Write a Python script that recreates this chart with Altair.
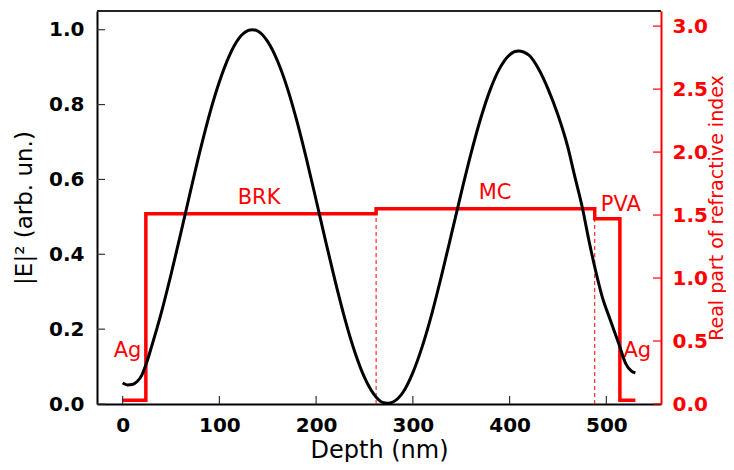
import altair as alt
import pandas as pd

# |E|^2 profile
depth_e = [0, 5, 10, 15, 20, 25, 30, 40, 50, 60, 70, 80, 90, 100, 110, 120, 130, 134, 140,
           150, 160, 170, 180, 190, 200, 210, 220, 230, 240, 250, 260, 268, 274, 280, 290,
           300, 310, 320, 330, 340, 350, 360, 370, 380, 390, 400, 409, 420, 430, 440, 450,
           460, 467, 475, 482, 489, 496, 504, 513, 520, 526, 530]
e_vals = [0.056, 0.051, 0.052, 0.060, 0.078, 0.112, 0.154, 0.244, 0.346, 0.455, 0.567, 0.676,
          0.776, 0.861, 0.929, 0.976, 0.998, 1.000, 0.996, 0.968, 0.917, 0.846, 0.757, 0.655,
          0.545, 0.433, 0.325, 0.225, 0.139, 0.071, 0.025, 0.005, 0.002, 0.006, 0.032, 0.084,
          0.156, 0.245, 0.347, 0.455, 0.564, 0.668, 0.762, 0.840, 0.898, 0.933, 0.943, 0.932,
          0.895, 0.840, 0.772, 0.688, 0.612, 0.527, 0.437, 0.355, 0.284, 0.225, 0.160, 0.108,
          0.088, 0.083]

# refractive index profile (step)
layer_depth = [0, 24, 262, 488, 514, 530]
layer_n = [0.03, 1.51, 1.55, 1.47, 0.03, 0.03]

interface_depth = [262, 488]
interface_n = [1.51, 1.47]

label_text = ["Ag", "BRK", "MC", "PVA", "Ag"]
label_depth = [5, 141, 385, 515, 532]
label_n = [0.37, 1.59, 1.63, 1.53, 0.37]

x_ticks = [0, 100, 200, 300, 400, 500]
left_ticks = [0.0, 0.2, 0.4, 0.6, 0.8, 1.0]
right_ticks = [0.0, 0.5, 1.0, 1.5, 2.0, 2.5, 3.0]

W, H = 564, 393
RED = "#ff0000"
FONT = "DejaVu Sans"

xscale = alt.Scale(domain=[-26.5, 556.5], nice=False, zero=False)
lscale = alt.Scale(domain=[0, 1.05], nice=False)
rscale = alt.Scale(domain=[0, 3.12], nice=False)

df_e = pd.DataFrame({"depth": depth_e, "E": e_vals})
df_n = pd.DataFrame({"depth": layer_depth, "n": layer_n})
df_if = pd.DataFrame({"depth": interface_depth, "n": interface_n, "n0": [0.0] * len(interface_depth)})
df_lab = pd.DataFrame({"depth": label_depth, "n": label_n, "text": label_text})

x_axis = alt.Axis(values=x_ticks, format="d", title="Depth (nm)", ticks=False,
                  labelFont=FONT, labelFontSize=20, labelFontWeight="bold", labelColor="black",
                  labelPadding=11, titleFont=FONT, titleFontSize=24, titleFontWeight="normal",
                  titleColor="black", titlePadding=3, domainColor="black", domainWidth=2,
                  grid=False, labelFlush=False)
left_axis = alt.Axis(values=left_ticks, format=".1f", title="|E|² (arb. un.)", ticks=False,
                     labelFont=FONT, labelFontSize=20, labelFontWeight="bold", labelColor="black",
                     labelPadding=13, titleFont=FONT, titleFontSize=23, titleFontWeight="normal",
                     titleColor="black", titlePadding=12, domainColor="black", domainWidth=2,
                     grid=False, labelFlush=False)
right_axis = alt.Axis(orient="right", values=right_ticks, format=".1f",
                      title="Real part of refractive index", ticks=False,
                      labelFont=FONT, labelFontSize=20, labelFontWeight="bold", labelColor=RED,
                      labelPadding=11, titleFont=FONT, titleFontSize=19, titleFontWeight="normal",
                      titleColor=RED, titlePadding=0, titleAngle=270, titleBaseline="top",
                      domainColor=RED, domainWidth=2, grid=False, labelFlush=False)

X = lambda f: alt.X(f, scale=xscale, axis=x_axis)
YL = lambda f: alt.Y(f, scale=lscale, axis=left_axis)
YR = lambda f: alt.Y(f, scale=rscale, axis=right_axis)

# ---- right (refractive index) group ----
n_line = alt.Chart(df_n).mark_line(color=RED, strokeWidth=3.5, interpolate="step-after").encode(
    x=X("depth:Q"), y=YR("n:Q"),
)
dashed = alt.Chart(df_if).mark_rule(color=RED, strokeWidth=1, strokeDash=[4, 3]).encode(
    x=X("depth:Q"), y=YR("n0:Q"), y2="n:Q",
)
labels = alt.Chart(df_lab).mark_text(color=RED, font=FONT, fontSize=21, align="center",
                                     baseline="alphabetic").encode(
    x=X("depth:Q"), y=YR("n:Q"), text="text:N",
)
rticks = alt.Chart(pd.DataFrame({"v": right_ticks})).mark_rule(color=RED, strokeWidth=1.2).encode(
    x=alt.value(W - 8), x2=alt.value(W), y=YR("v:Q"),
)
right_group = alt.layer(n_line, dashed, labels, rticks)

# ---- left (|E|^2) group ----
e_line = alt.Chart(df_e).mark_line(color="black", strokeWidth=3, interpolate="monotone").encode(
    x=X("depth:Q"), y=YL("E:Q"),
)
bticks = alt.Chart(pd.DataFrame({"v": x_ticks})).mark_rule(color="#333333", strokeWidth=1.2).encode(
    x=X("v:Q"), y=alt.value(H - 8), y2=alt.value(H),
)
lticks = alt.Chart(pd.DataFrame({"v": left_ticks})).mark_rule(color="#333333", strokeWidth=1.2).encode(
    x=alt.value(0), x2=alt.value(8), y=YL("v:Q"),
)
top_border = alt.Chart(pd.DataFrame({"v": [1.05]})).mark_rule(color="#222222", strokeWidth=2).encode(
    x=alt.value(0), x2=alt.value(W), y=YL("v:Q"),
)
left_group = alt.layer(e_line, bticks, lticks, top_border)

chart = alt.layer(right_group, left_group).resolve_scale(y="independent").properties(
    width=W, height=H,
    padding={"left": 89, "top": 3, "right": 65, "bottom": 58},
    autosize=alt.AutoSizeParams(type="none"),
).configure_view(stroke=None).configure(background="white")

chart.save("out.html", embed_options={"renderer": "svg", "actions": False})
